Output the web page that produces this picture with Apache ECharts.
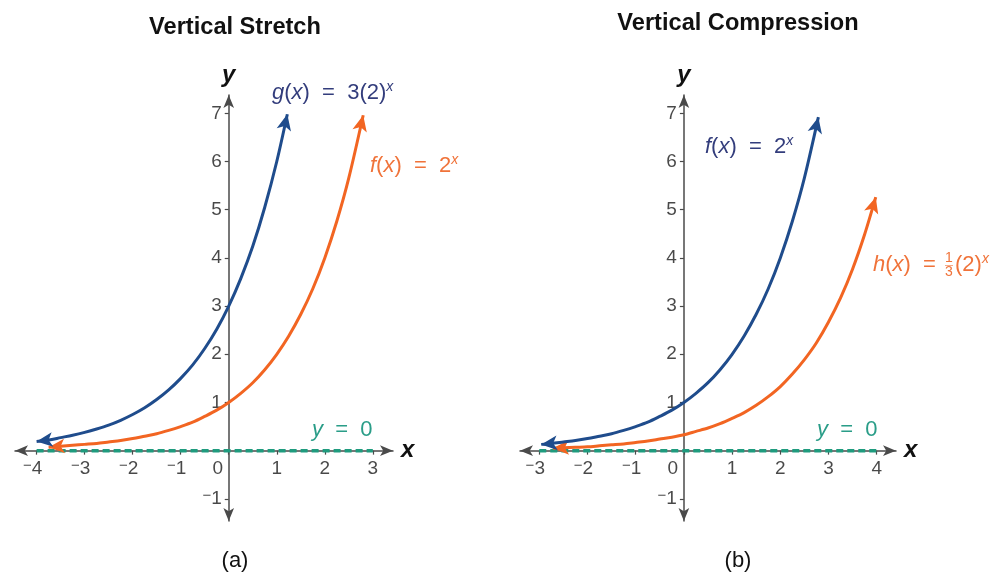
<!DOCTYPE html>
<html>
<head>
<meta charset="utf-8">
<script src="https://cdn.jsdelivr.net/npm/echarts@6/dist/echarts.min.js"></script>
<style>
html,body{margin:0;padding:0;background:#fff;}
#chart{width:1003px;height:575px;}
</style>
</head>
<body>
<div id="chart"></div>
<script>
// ---- data ----
const titles = ['Vertical Stretch', 'Vertical Compression'];
const panelTags = ['(a)', '(b)'];
const xTicksA = [-4, -3, -2, -1, 0, 1, 2, 3];
const xTicksB = [-3, -2, -1, 0, 1, 2, 3, 4];
const yTicks = [-1, 1, 2, 3, 4, 5, 6, 7];
// panel (a): g(x) = 3(2)^x
const gA = [[-4, 0.19], [-3.75, 0.22], [-3.5, 0.27], [-3.25, 0.32], [-3, 0.38], [-2.75, 0.45], [-2.5, 0.53], [-2.25, 0.63], [-2, 0.75], [-1.75, 0.89], [-1.5, 1.06], [-1.25, 1.26], [-1, 1.5], [-0.75, 1.78], [-0.5, 2.12], [-0.25, 2.52], [0, 3], [0.25, 3.57], [0.5, 4.24], [0.75, 5.05], [1, 6], [1.22, 6.98]];
// panel (a): f(x) = 2^x
const fA = [[-3.75, 0.07], [-3.5, 0.09], [-3.25, 0.11], [-3, 0.13], [-2.75, 0.15], [-2.5, 0.18], [-2.25, 0.21], [-2, 0.25], [-1.75, 0.3], [-1.5, 0.35], [-1.25, 0.42], [-1, 0.5], [-0.75, 0.59], [-0.5, 0.71], [-0.25, 0.84], [0, 1], [0.25, 1.19], [0.5, 1.41], [0.75, 1.68], [1, 2], [1.25, 2.38], [1.5, 2.83], [1.75, 3.36], [2, 4], [2.25, 4.76], [2.5, 5.66], [2.8, 6.96]];
// panel (b): f(x) = 2^x
const fB = [[-2.96, 0.13], [-2.75, 0.15], [-2.5, 0.18], [-2.25, 0.21], [-2, 0.25], [-1.75, 0.3], [-1.5, 0.35], [-1.25, 0.42], [-1, 0.5], [-0.75, 0.59], [-0.5, 0.71], [-0.25, 0.84], [0, 1], [0.25, 1.19], [0.5, 1.41], [0.75, 1.68], [1, 2], [1.25, 2.38], [1.5, 2.83], [1.75, 3.36], [2, 4], [2.25, 4.76], [2.5, 5.66], [2.79, 6.92]];
// panel (b): h(x) = 1/3 (2)^x
const hB = [[-2.72, 0.05], [-2.5, 0.06], [-2.25, 0.07], [-2, 0.08], [-1.75, 0.1], [-1.5, 0.12], [-1.25, 0.14], [-1, 0.17], [-0.75, 0.2], [-0.5, 0.24], [-0.25, 0.28], [0, 0.33], [0.25, 0.4], [0.5, 0.47], [0.75, 0.56], [1, 0.67], [1.25, 0.79], [1.5, 0.94], [1.75, 1.12], [2, 1.33], [2.25, 1.59], [2.5, 1.89], [2.75, 2.24], [3, 2.67], [3.25, 3.17], [3.5, 3.77], [3.75, 4.49], [3.98, 5.26]];
// asymptote y = 0
const asymA = [[-4, 0], [3, 0]];
const asymB = [[-3, 0], [4, 0]];

// ---- styles ----
const FONT = '"Liberation Sans", Arial, Helvetica, sans-serif';
const NAVY = '#1f4c8c';
const NAVY_TXT = '#333d7c';
const ORANGE = '#f26522';
const ORANGE_TXT = '#f0733a';
const TEAL = '#1f9b7e';
const TEAL_TXT = '#2a9d88';
const AXIS = '#4a4a4a';
const LABEL = '#1a1a1a';

function xAxisCfg(gi, min, max, ticks) {
  return {
    type: 'value', gridIndex: gi, min: min, max: max,
    splitLine: { show: false },
    axisLine: { onZero: true, symbol: ['arrow', 'arrow'], symbolSize: [8, 13], lineStyle: { color: AXIS, width: 1.5 } },
    axisTick: { show: true, customValues: ticks, length: 4, lineStyle: { color: AXIS, width: 1.2 } },
    axisLabel: { show: false },
    name: 'x', nameLocation: 'end', nameGap: 8,
    nameTextStyle: { fontSize: 24, fontWeight: 'bold', fontStyle: 'italic', fontFamily: FONT, color: '#111', verticalAlign: 'middle' }
  };
}
function yAxisCfg(gi, min, max) {
  return {
    type: 'value', gridIndex: gi, min: min, max: max,
    splitLine: { show: false },
    axisLine: { onZero: true, symbol: ['arrow', 'arrow'], symbolSize: [8, 13], lineStyle: { color: AXIS, width: 1.5 } },
    axisTick: { show: true, customValues: yTicks, length: 4, lineStyle: { color: AXIS, width: 1.2 } },
    axisLabel: { show: false },
    name: 'y', nameLocation: 'end', nameGap: 8,
    nameTextStyle: { fontSize: 24, fontWeight: 'bold', fontStyle: 'italic', fontFamily: FONT, color: '#111' }
  };
}

const tickRich = {
  n: { fontSize: 19, fontFamily: FONT, color: LABEL, lineHeight: 20 },
  m: { fontSize: 15, fontFamily: FONT, color: LABEL, lineHeight: 20, verticalAlign: 'top' }
};
function tickText(v) { return v < 0 ? '{m|\u2212}{n|' + Math.abs(v) + '}' : '{n|' + v + '}'; }

// tick labels drawn on the axes' zero lines through the grid's scales
function tickLabels(xi, xTicks) {
  const data = [];
  xTicks.forEach(function (v) {
    data.push({ value: [v, 0], label: { position: 'bottom', distance: 8, formatter: tickText(v), offset: v < 0 ? [-4, 0] : (v === 0 ? [-11, 0] : [0, 0]) } });
  });
  yTicks.forEach(function (v) {
    data.push({ value: [0, v], label: { position: 'left', distance: 7, formatter: tickText(v) } });
  });
  return {
    type: 'scatter', xAxisIndex: xi, yAxisIndex: xi, data: data, symbolSize: 0, silent: true, z: 1,
    itemStyle: { color: 'rgba(0,0,0,0)' },
    label: { show: true, rich: tickRich, color: LABEL }
  };
}

function curve(xi, data, color, z) {
  return {
    type: 'line', xAxisIndex: xi, yAxisIndex: xi, data: data.map(p => ({ value: p })),
    smooth: 0.3, symbol: 'none', showSymbol: true, clip: false, z: z || 3,
    lineStyle: { color: color, width: 3 }, itemStyle: { color: color }, silent: true
  };
}
function asym(xi, data) {
  return {
    type: 'line', xAxisIndex: xi, yAxisIndex: xi, data: data, symbol: 'none', clip: false, z: 2,
    lineStyle: { color: TEAL, width: 3.5, type: [7, 4] }, silent: true
  };
}

function txt(x, y, text, rich, fill, extra) {
  return {
    type: 'text', x: x, y: y, silent: true,
    style: Object.assign({ text: text, rich: rich || {}, fill: fill || '#111', font: '22px ' + FONT, textVerticalAlign: 'middle' }, extra || {})
  };
}
function annoRich(color) {
  return {
    n: { fontSize: 22, fontFamily: FONT, fill: color, color: color, lineHeight: 26 },
    i: { fontSize: 22, fontFamily: FONT, fontStyle: 'italic', fill: color, color: color, lineHeight: 26 },
    s: { fontSize: 14, fontFamily: FONT, fontStyle: 'italic', fill: color, color: color, verticalAlign: 'top', lineHeight: 26 }
  };
}

const chart = echarts.init(document.getElementById('chart'), null, { renderer: 'canvas' });

const series = [
  asym(0, asymA), asym(1, asymB),
  curve(0, gA, NAVY, 4), curve(0, fA, ORANGE, 3),
  curve(1, fB, NAVY, 4), curve(1, hB, ORANGE, 3),
  tickLabels(0, xTicksA), tickLabels(1, xTicksB)
];

const option = {
  backgroundColor: '#ffffff',
  animation: false,
  grid: [
    { left: 15, top: 95, width: 378, height: 426, outerBoundsMode: 'none', containLabel: false },
    { left: 520, top: 95, width: 376, height: 426, outerBoundsMode: 'none', containLabel: false }
  ],
  xAxis: [xAxisCfg(0, -4.45, 3.42, xTicksA), xAxisCfg(1, -3.40, 4.40, xTicksB)],
  yAxis: [yAxisCfg(0, -1.46, 7.38), yAxisCfg(1, -1.46, 7.38)],
  series: series,
  graphic: [
    txt(235, 27, titles[0], null, '#111', { font: 'bold 23.6px ' + FONT, textAlign: 'center' }),
    txt(738, 23, titles[1], null, '#111', { font: 'bold 23.6px ' + FONT, textAlign: 'center' }),
    txt(235, 561, panelTags[0], null, '#111', { font: '22px ' + FONT, textAlign: 'center' }),
    txt(738, 561, panelTags[1], null, '#111', { font: '22px ' + FONT, textAlign: 'center' }),
    txt(272, 93, '{i|g}{n|(}{i|x}{n|)  =  3(2)}{s|x}', annoRich(NAVY_TXT), NAVY_TXT),
    txt(370, 166, '{i|f}{n|(}{i|x}{n|)  =  2}{s|x}', annoRich(ORANGE_TXT), ORANGE_TXT),
    txt(312, 430, '{i|y}{n|  =  0}', annoRich(TEAL_TXT), TEAL_TXT),
    txt(705, 147, '{i|f}{n|(}{i|x}{n|)  =  2}{s|x}', annoRich(NAVY_TXT), NAVY_TXT),
    txt(817, 430, '{i|y}{n|  =  0}', annoRich(TEAL_TXT), TEAL_TXT),
    txt(873, 265, '{i|h}{n|(}{i|x}{n|)  =}', annoRich(ORANGE_TXT), ORANGE_TXT),
    txt(949, 258, '1', null, ORANGE_TXT, { font: '14px ' + FONT, textAlign: 'center' }),
    txt(949, 272, '3', null, ORANGE_TXT, { font: '14px ' + FONT, textAlign: 'center' }),
    { type: 'rect', silent: true, shape: { x: 945, y: 265, width: 8, height: 1 }, style: { fill: ORANGE_TXT, opacity: 0.6 } },
    txt(955, 265, '{n|(2)}{s|x}', annoRich(ORANGE_TXT), ORANGE_TXT)
  ]
};
chart.setOption(option);

// arrowheads at both ends of each curve, oriented along the curve on screen
function arrowAngle(gi, from, to) {
  const a = chart.convertToPixel({ gridIndex: gi }, from);
  const b = chart.convertToPixel({ gridIndex: gi }, to);
  const dx = b[0] - a[0], dy = b[1] - a[1];
  return Math.atan2(-dx, -dy) * 180 / Math.PI;
}
function withArrows(gi, pts) {
  const n = pts.length;
  return pts.map(function (p, k) {
    if (k === 0) return { value: p, symbol: 'arrow', symbolSize: [11, 16], symbolRotate: arrowAngle(gi, pts[1], pts[0]) };
    if (k === n - 1) return { value: p, symbol: 'arrow', symbolSize: [11, 16], symbolRotate: arrowAngle(gi, pts[n - 2], pts[n - 1]) };
    return { value: p, symbol: 'none' };
  });
}
chart.setOption({
  series: [
    {}, {},
    { data: withArrows(0, gA) }, { data: withArrows(0, fA) },
    { data: withArrows(1, fB) }, { data: withArrows(1, hB) }
  ]
});
</script>
</body>
</html>
